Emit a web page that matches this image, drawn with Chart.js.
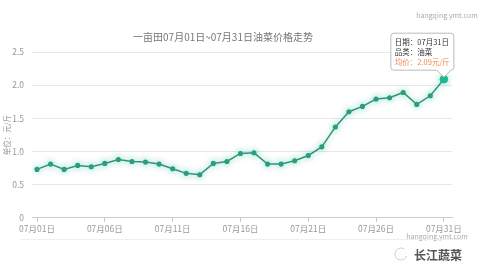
<!DOCTYPE html>
<html>
<head>
<meta charset="utf-8">
<script src="https://cdn.jsdelivr.net/npm/chart.js@4"></script>
<style>
  html, body { margin: 0; padding: 0; background: #fff; }
  #wrap { width: 481px; height: 276px; }
</style>
</head>
<body>
<div id="wrap"><canvas id="price-chart"></canvas></div>
<script>
var days = ["07月01日", "07月02日", "07月03日", "07月04日", "07月05日", "07月06日", "07月07日", "07月08日", "07月09日", "07月10日",
            "07月11日", "07月12日", "07月13日", "07月14日", "07月15日", "07月16日", "07月17日", "07月18日", "07月19日", "07月20日",
            "07月21日", "07月22日", "07月23日", "07月24日", "07月25日", "07月26日", "07月27日", "07月28日", "07月29日", "07月30日", "07月31日"]
var prices = [0.73, 0.81, 0.73, 0.79, 0.77, 0.82, 0.88, 0.85, 0.84, 0.81,
              0.74, 0.67, 0.65, 0.82, 0.85, 0.97, 0.98, 0.81, 0.81, 0.86,
              0.94, 1.07, 1.37, 1.60, 1.68, 1.79, 1.81, 1.89, 1.71, 1.84, 2.09]
var xTickDays = [1, 6, 11, 16, 21, 26, 31]
var yTicks = [0, 0.5, 1, 1.5, 2, 2.5]
var category = "油菜"
var chartTitle = "一亩田07月01日~07月31日油菜价格走势"
var unitLabel = "单位：元/斤"

var FONT = '"Noto Sans CJK SC", "Noto Sans", sans-serif'

var points = prices.map(function (v, i) { return { x: i + 1, y: v } })

// glow under the line + watermark texts
var extras = {
    id: 'extras',
    beforeDatasetsDraw: function (chart) {
        var c = chart.ctx
        c.save()
        c.shadowColor = 'rgba(40, 200, 160, 0.5)'
        c.shadowBlur = 6
    },
    afterDatasetsDraw: function (chart) {
        chart.ctx.restore()
    },
    afterDraw: function (chart) {
        var c = chart.ctx
        c.save()
        c.fillStyle = '#777'
        c.font = '10px ' + FONT
        c.textAlign = 'center'
        c.textBaseline = 'middle'
        c.fillText(chartTitle, 223, 37)

        c.fillStyle = '#aaa'
        c.font = '7px ' + FONT
        c.fillText('hangqing.ymt.com', 447, 15)
        c.fillText('hangqing.ymt.com', 437, 236)

        c.translate(7, 135)
        c.rotate(-Math.PI / 2)
        c.fillStyle = '#999'
        c.font = '7.5px ' + FONT
        c.fillText(unitLabel, 0, 0)
        c.restore()

        c.save()
        c.strokeStyle = '#eee'
        c.beginPath()
        c.moveTo(20, 239.5)
        c.lineTo(462, 239.5)
        c.stroke()
        c.strokeStyle = '#ccc'
        c.beginPath()
        c.arc(401, 254, 6, 0.3, Math.PI * 1.7)
        c.stroke()
        c.fillStyle = '#555'
        c.font = 'bold 12px ' + FONT
        c.textAlign = 'left'
        c.textBaseline = 'middle'
        c.fillText('长江蔬菜', 414, 255)
        c.restore()
    }
}

var ctx = document.getElementById("price-chart")
var priceChart = new Chart(ctx, {
    type: 'line',
    data: {
        datasets: [{
            label: category,
            data: points,
            borderColor: '#3a917a',
            borderWidth: 1.5,
            backgroundColor: '#2e9a7e',
            pointBackgroundColor: '#2e9a7e',
            pointBorderColor: '#2e9a7e',
            pointRadius: 1.8,
            pointHoverRadius: 3.8,
            pointHoverBackgroundColor: '#1fb58f',
            pointHoverBorderColor: '#1fb58f',
            tension: 0,
            fill: false
        }]
    },
    options: {
        responsive: true,
        maintainAspectRatio: false,
        animation: false,
        events: [],
        layout: { padding: { top: 52, right: 29, bottom: 40, left: 0 } },
        scales: {
            x: {
                type: 'linear',
                min: 0.63,
                max: 31.6,
                afterBuildTicks: function (scale) {
                    scale.ticks = xTickDays.map(function (d) { return { value: d } })
                },
                ticks: {
                    color: '#999',
                    font: { size: 8.5, family: FONT },
                    padding: 2,
                    maxRotation: 0,
                    autoSkip: false,
                    callback: function (v) { return days[v - 1] }
                },
                grid: { drawOnChartArea: false, drawTicks: true, tickLength: 4, color: '#ccc' },
                border: { display: true, color: '#ccc' }
            },
            y: {
                min: 0,
                max: 2.5,
                afterBuildTicks: function (scale) {
                    scale.ticks = yTicks.map(function (v) { return { value: v } })
                },
                afterFit: function (scale) { scale.width = 32 },
                ticks: {
                    color: '#999',
                    font: { size: 8.5, family: FONT },
                    padding: 8
                },
                grid: { color: '#e8e8e8', drawTicks: false },
                border: { display: false }
            }
        },
        plugins: {
            legend: { display: false },
            title: { display: false },
            tooltip: {
                enabled: true,
                xAlign: 'right',
                yAlign: 'bottom',
                backgroundColor: 'rgba(255,255,255,0.95)',
                borderColor: '#bbb',
                borderWidth: 1,
                cornerRadius: 3,
                caretSize: 7,
                caretPadding: 2,
                padding: { top: 4, bottom: 4, left: 4, right: 4 },
                displayColors: false,
                titleColor: '#333',
                titleFont: { size: 7.5, family: FONT, weight: 'normal' },
                titleMarginBottom: 1,
                titleSpacing: 1,
                bodyColor: '#f08a4b',
                bodyFont: { size: 7.5, family: FONT },
                callbacks: {
                    title: function (items) {
                        var i = items[0].dataIndex
                        return ['日期：' + days[i], '品类：' + category]
                    },
                    label: function (item) {
                        return '均价：' + prices[item.dataIndex].toFixed(2) + '元/斤'
                    }
                }
            }
        }
    },
    plugins: [extras]
})

var last = prices.length - 1
var lastEl = priceChart.getDatasetMeta(0).data[last]
priceChart.setActiveElements([{ datasetIndex: 0, index: last }])
priceChart.tooltip.setActiveElements([{ datasetIndex: 0, index: last }], { x: lastEl.x, y: lastEl.y })
priceChart.update()
</script>
</body>
</html>
